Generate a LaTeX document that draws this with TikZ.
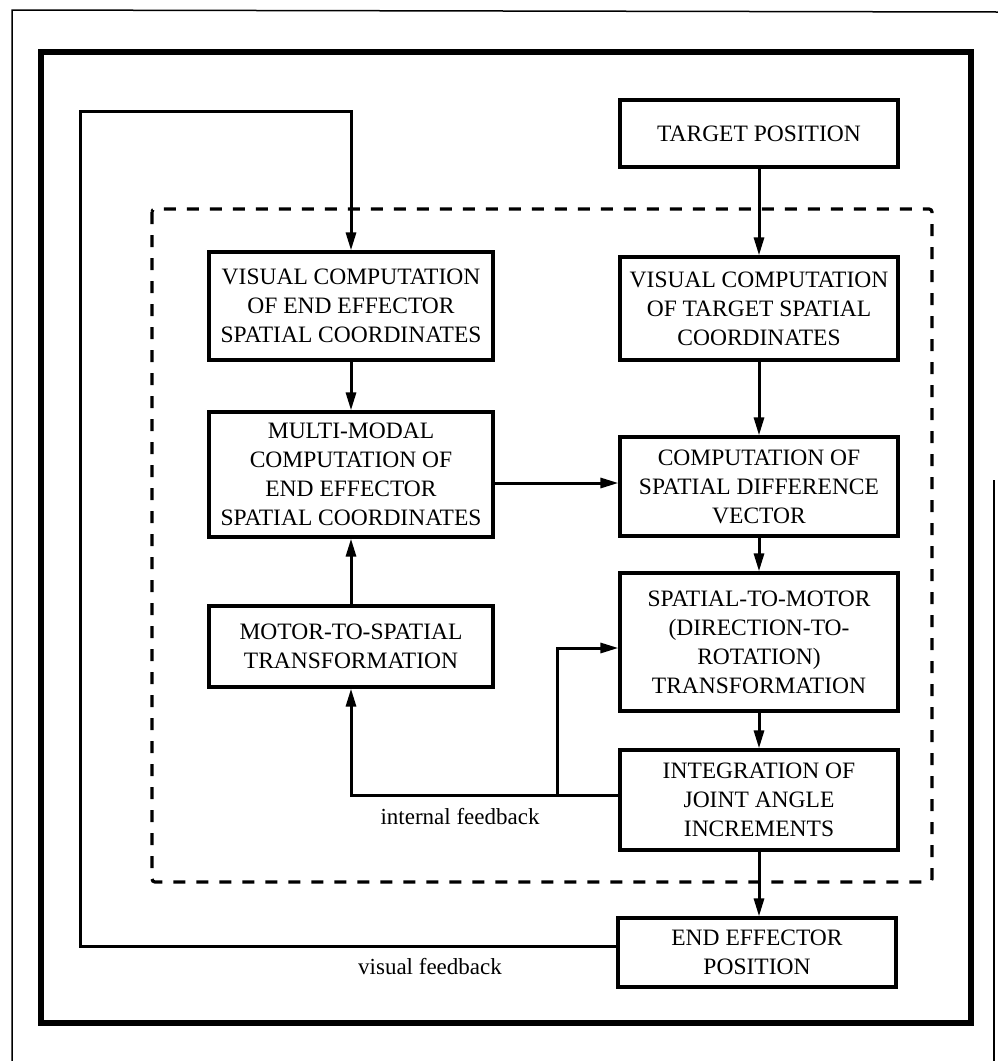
\documentclass[tikz,border=0pt]{standalone}
\usepackage{fontspec}
\setmainfont{Liberation Serif}
\usetikzlibrary{arrows.meta,calc}
\begin{document}
\begin{tikzpicture}[x=1pt,y=-1pt,
  box/.style={draw,line width=3.2pt,align=center,inner sep=0pt,
    font=\fontsize{23.5}{29}\selectfont},
  lbox/.style={box,minimum width=284pt},
  rbox/.style={box,minimum width=278pt},
  conn/.style={line width=3pt},
  arr/.style={conn,-{Triangle[length=18pt,width=10pt]}},
  lbl/.style={font=\fontsize{23}{27}\selectfont,inner sep=0pt}]
\useasboundingbox (0,0) rectangle (998,1061);
% frames
\draw[line width=1.5pt] (12,1061) -- (12,10) -- (998,12);
\draw[line width=1.5pt] (994,480) -- (994,1061);
\draw[line width=6pt] (41,52) rectangle (971,1023);
\draw[line width=3.2pt,dash pattern=on 12pt off 11pt,rounded corners=3pt] (152,209) rectangle (932,882);
% nodes
\node[rbox,minimum height=67pt] (tgt) at (759,133.5) {TARGET POSITION};
\node[lbox,minimum height=108pt] (vce) at (351,306) {VISUAL COMPUTATION\\OF END EFFECTOR\\SPATIAL COORDINATES};
\node[rbox,minimum height=103pt] (vct) at (759,308.5) {VISUAL COMPUTATION\\OF TARGET SPATIAL\\COORDINATES};
\node[lbox,minimum height=125pt] (mm) at (351,474.5) {MULTI-MODAL\\COMPUTATION OF\\END EFFECTOR\\SPATIAL COORDINATES};
\node[rbox,minimum height=99pt] (csd) at (759,486.5) {COMPUTATION OF\\SPATIAL DIFFERENCE\\VECTOR};
\node[lbox,minimum height=81pt] (mts) at (351,646.5) {MOTOR-TO-SPATIAL\\TRANSFORMATION};
\node[rbox,minimum height=138pt] (stm) at (759,642) {SPATIAL-TO-MOTOR\\(DIRECTION-TO-\\ROTATION)\\TRANSFORMATION};
\node[rbox,minimum height=100pt] (int) at (759,800) {INTEGRATION OF\\JOINT ANGLE\\INCREMENTS};
\node[rbox,minimum height=69pt] (eep) at (757,952.5) {END EFFECTOR\\POSITION};
\node[lbl] (ilab) at (460,817) {internal feedback};
\node[lbl] (vlab) at (430,967) {visual feedback};
% straight connectors
\draw[arr] (tgt.south) -- (vct.north);
\draw[arr] (vct.south) -- (csd.north);
\draw[arr] (csd.south) -- (stm.south |- stm.north);
\draw[arr] (stm.south) -- (int.north);
\draw[arr] (int.south) -- (int.south |- eep.north);
\draw[arr] (vce.south) -- (mm.north);
\draw[arr] (mts.north) -- (mm.south);
\coordinate (m1) at ([yshift=-8.5pt]mm.east);
\draw[arr] (m1) -- (m1 -| csd.west);
% internal feedback
\coordinate (i1) at ([yshift=5pt]int.west);
\coordinate (br) at (557,795);
\coordinate (s1) at ([yshift=-6pt]stm.west);
\draw[arr] (i1) -| (mts.south);
\draw[arr] (br) |- (s1);
% visual feedback
\coordinate (e1) at ([yshift=6.5pt]eep.west);
\coordinate (vfc) at (80,111);
\draw[arr] (e1) -| (vfc) -| (vce.north);
\end{tikzpicture}
\end{document}
